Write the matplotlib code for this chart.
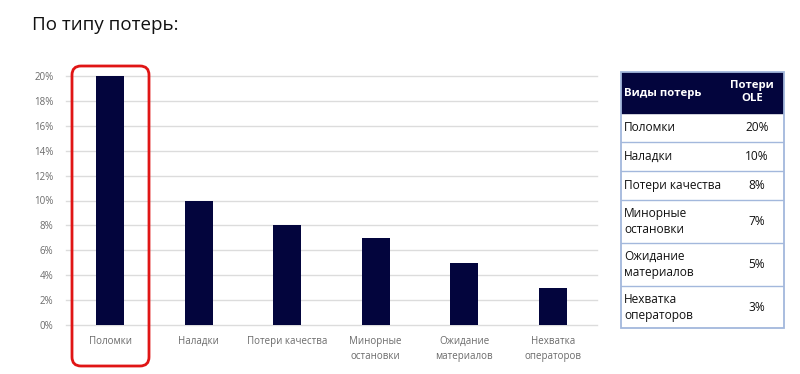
import matplotlib
matplotlib.use("Agg")
import matplotlib.pyplot as plt
from matplotlib.patches import FancyBboxPatch, Rectangle
from matplotlib.ticker import PercentFormatter
from matplotlib.transforms import IdentityTransform

categories = ["Поломки", "Наладки", "Потери качества",
              "Минорные\nостановки", "Ожидание\nматериалов", "Нехватка\nоператоров"]
losses = [20, 10, 8, 7, 5, 3]
yticks = [0, 2, 4, 6, 8, 10, 12, 14, 16, 18, 20]
title = "По типу потерь:"
table_header = ["Виды потерь", "Потери\nOLE"]

navy = "#03053d"
plt.rcParams["font.family"] = ["Open Sans", "DejaVu Sans"]

W, H = 800, 374
fig = plt.figure(figsize=(W / 100, H / 100), dpi=100)

# main bar chart
ax = fig.add_axes([66 / W, (H - 325) / H, (597 - 66) / W, (325 - 76) / H])
x = list(range(len(categories)))
ax.bar(x, losses, width=0.32, color=navy, zorder=3)
ax.set_xlim(-0.5, len(categories) - 0.5)
ax.set_ylim(0, 20)
ax.set_yticks(yticks)
ax.yaxis.set_major_formatter(PercentFormatter(decimals=0))
ax.set_xticks(x)
ax.set_xticklabels(categories, fontsize=7, color="#6b6b6b", linespacing=1.5)
ax.tick_params(axis="y", length=0, pad=9, labelsize=7, labelcolor="#6b6b6b")
ax.tick_params(axis="x", length=0, pad=8)
ax.grid(axis="y", color="#dcdcdc", linewidth=1, zorder=0, clip_on=False)
for s in ax.spines.values():
    s.set_visible(False)

fig.text(32 / W, 1 - 25 / H, title, fontsize=13.5, va="center", ha="left", color="#111111")

# red highlight around the first category
hl = FancyBboxPatch((72, H - 366), 77, 300, boxstyle="round,pad=0,rounding_size=9",
                    transform=IdentityTransform(), fill=False, edgecolor="#e01515",
                    linewidth=2.0, zorder=10)
fig.patches.append(hl)

# table on the right
tl, tt, tr, tb = 621, 71.5, 784, 328
tax = fig.add_axes([tl / W, (H - tb) / H, (tr - tl) / W, (tb - tt) / H])
tax.set_xlim(0, tr - tl)
tax.set_ylim(tb - tt, 0)
tax.axis("off")
border = "#a3b8dc"
header_h = 41.5
single_h, double_h = 29, 43
tax.add_patch(Rectangle((0, 0), tr - tl, header_h, color=navy, zorder=1))
tax.text(3, header_h / 2 + 1, table_header[0], color="white", fontweight="bold",
         fontsize=8.2, va="center", ha="left")
tax.text(131, header_h / 2, table_header[1], color="white", fontweight="bold",
         fontsize=8.2, va="center", ha="center", linespacing=1.2)
y = header_h
for name, val in zip(categories, losses):
    h = double_h if "\n" in name else single_h
    tax.text(3, y + h / 2, name, fontsize=8.6, va="center", ha="left",
             color="#111111", linespacing=1.35)
    tax.text(136, y + h / 2, f"{val}%", fontsize=8.6, va="center", ha="center",
             color="#111111")
    y += h
    tax.plot([0, tr - tl], [y, y], color=border, linewidth=1, zorder=2)
tax.add_patch(Rectangle((0, 0), tr - tl, tb - tt, fill=False, edgecolor=border,
                        linewidth=1.3, zorder=3, clip_on=False))

fig.savefig("out.png", dpi=100)
